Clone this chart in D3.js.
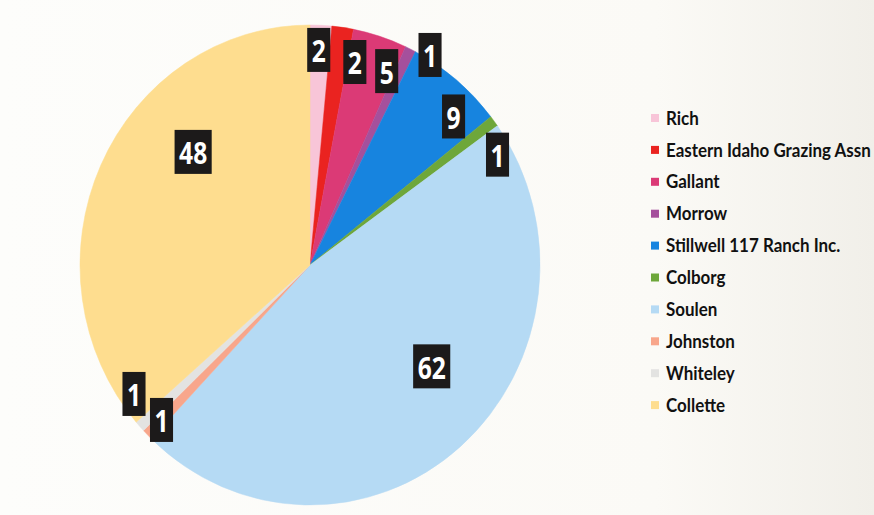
<!DOCTYPE html>
<html>
<head>
<meta charset="utf-8">
<script src="https://cdn.jsdelivr.net/npm/d3@7"></script>
<style>
  html, body { margin: 0; padding: 0; background: #fcfbf8; }
  svg { display: block; }
</style>
</head>
<body>
<svg id="chart" width="874" height="515"></svg>
<script>
// ---- data ----
const categories = ["Rich", "Eastern Idaho Grazing Assn", "Gallant", "Morrow", "Stillwell 117 Ranch Inc.", "Colborg", "Soulen", "Johnston", "Whiteley", "Collette"];
const values = [2, 2, 5, 1, 9, 1, 62, 1, 1, 48];
const colors = ["#f8c5d8", "#ea2320", "#db3a76", "#a5509c", "#1784df", "#6ea73a", "#b5daf4", "#f8a68b", "#e3e3e1", "#fedd8f"];

// ---- label layout (Excel "best fit" style nudges) ----
const labelShift = [-0.3, 4.8, 4.7, 4.9, 5.7, 7.4, -10.5, 0, 7.2, 18.3];   // degrees
const labelRadius = [0.897, 0.868, 0.874, 1.019, 0.879, 0.936, 0.677, 0.913, 0.935, 0.693];

const W = 874, H = 515;
const cx = 310, cy = 265, rx = 230, ry = 240;

const svg = d3.select("#chart");

// background
const defs = svg.append("defs");
const grad = defs.append("linearGradient").attr("id", "bg").attr("x1", "0").attr("x2", "1").attr("y1", "0").attr("y2", "0");
grad.append("stop").attr("offset", "0").attr("stop-color", "#fdfdfb");
grad.append("stop").attr("offset", "0.75").attr("stop-color", "#fbfaf6");
grad.append("stop").attr("offset", "1").attr("stop-color", "#f1efe9");
svg.append("rect").attr("width", W).attr("height", H).attr("fill", "url(#bg)");

const data = categories.map((c, i) => ({ name: c, value: values[i], color: colors[i], i }));

const pie = d3.pie().sort(null).value(d => d.value).startAngle(0).endAngle(2 * Math.PI);
const arcs = pie(data);
const arc = d3.arc().innerRadius(0).outerRadius(rx);

const g = svg.append("g").attr("transform", `translate(${cx},${cy}) scale(1,${ry / rx})`);
g.selectAll("path").data(arcs).join("path")
  .attr("d", arc)
  .attr("fill", d => d.data.color)
  .attr("stroke", d => d.data.color)
  .attr("stroke-width", 0.5);

// data labels
const lg = svg.append("g");
const lsx = 0.82;
arcs.forEach(d => {
  const i = d.data.i;
  const a = (d.startAngle + d.endAngle) / 2 + labelShift[i] * Math.PI / 180;
  const x = cx + labelRadius[i] * rx * Math.sin(a);
  const y = cy - labelRadius[i] * ry * Math.cos(a);
  const grp = lg.append("g").attr("transform", `translate(${x},${y})`);
  const rect = grp.append("rect").attr("fill", "#1c1a1a");
  const t = grp.append("text")
    .attr("text-anchor", "middle")
    .attr("dominant-baseline", "central")
    .attr("font-family", "'Open Sans', 'DejaVu Sans', sans-serif")
    .attr("font-weight", "bold")
    .attr("font-size", 30)
    .attr("fill", "#ffffff")
    .attr("transform", `scale(${lsx},1)`)
    .attr("dy", 1)
    .text(d.data.value);
  const tw = t.node().getComputedTextLength() * lsx;
  const bw = tw + 9, bh = 44;
  rect.attr("x", -bw / 2).attr("y", -bh / 2).attr("width", bw).attr("height", bh);
});

// legend
const legend = svg.append("g");
const legX = 651, legY0 = 118, legStep = 31.9;
const texts = [];
data.forEach((d, i) => {
  const y = legY0 + i * legStep;
  legend.append("rect").attr("x", legX).attr("y", y - 4).attr("width", 8).attr("height", 8).attr("fill", d.color);
  const t = legend.append("text")
    .attr("x", 0).attr("y", 0)
    .attr("dominant-baseline", "central")
    .attr("font-family", "Lato, 'Open Sans', sans-serif")
    .attr("font-weight", "bold")
    .attr("font-size", 18)
    .attr("fill", "#111")
    .attr("data-y", y)
    .text(d.name);
  texts.push(t);
});
// fit the longest legend label to its width in the reference
const longest = d3.max(texts, t => t.node().getComputedTextLength());
const sx = 205 / longest;
texts.forEach(t => {
  t.attr("transform", `translate(666,${+t.attr("data-y")}) scale(${sx},1)`);
});
</script>
</body>
</html>
